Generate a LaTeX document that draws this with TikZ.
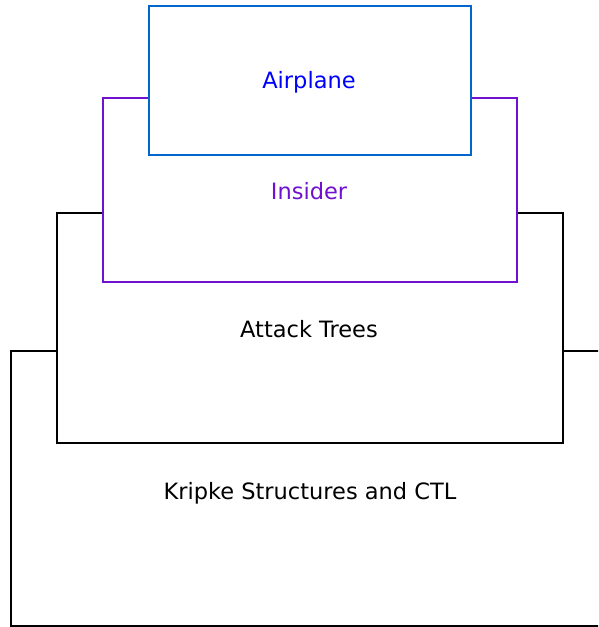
\documentclass[tikz,border=0pt]{standalone}
\usepackage{fontspec}
\setmainfont{DejaVu Sans}
\definecolor{planeline}{RGB}{0,102,204}
\definecolor{planetext}{RGB}{0,0,255}
\definecolor{insider}{RGB}{112,16,208}
\tikzset{
  layer/.style={draw, line width=2pt, fill=white},
  lbl/.style={font=\fontsize{22.5}{27}\selectfont, inner sep=0pt, anchor=base}
}
\begin{document}
\begin{tikzpicture}[x=1pt,y=-1pt]
\useasboundingbox (0,0) rectangle (598,627);
\clip (0,0) rectangle (598,627);
\draw[layer] (10.5,350.5) rectangle (620,625.5);
\draw[layer] (56.5,212.5) rectangle (562.5,442.5);
\draw[layer, draw=insider] (102.5,97.5) rectangle (516.5,281.5);
\draw[layer, draw=planeline] (148.5,5.5) rectangle (470.5,154.5);
\node[lbl, text=planetext] (airplane) at (309,88.5) {Airplane};
\node[lbl, text=insider] (insider) at (309,199) {Insider};
\node[lbl] (attack) at (309,337) {Attack Trees};
\node[lbl] (kripke) at (310,499) {Kripke Structures and CTL};
\end{tikzpicture}
\end{document}
